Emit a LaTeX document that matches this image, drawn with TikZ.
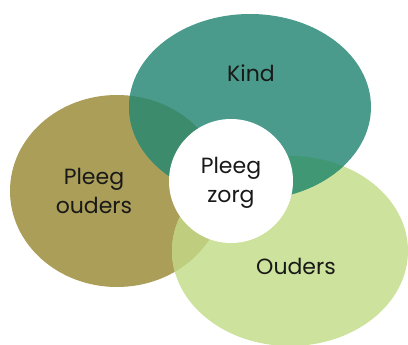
\documentclass[tikz,border=0pt]{standalone}
\usepackage{fontspec}
\setmainfont{Poppins}
\usepackage{xcolor}
\usepackage{tikz}
\usetikzlibrary{shapes.geometric}
\definecolor{kindcol}{HTML}{4A9B8B}
\definecolor{pleegcol}{HTML}{AB9E58}
\definecolor{ouderscol}{HTML}{CDE29C}
\definecolor{kindpleeg}{HTML}{3B8B6C}
\definecolor{kindouders}{HTML}{3F9873}
\definecolor{pleegouders}{HTML}{BFCD7F}
\tikzstyle{label}=[align=center, text=black!90, font=\fontsize{22}{29}\selectfont]
\tikzstyle{middle}=[fill=white, draw=none, shape=circle, minimum size=124pt, inner sep=0pt]
\newcommand{\kindshape}{(250,107) ellipse (121pt and 93pt)}
\newcommand{\pleegshape}{(117,191) ellipse (107pt and 96pt)}
\newcommand{\oudersshape}{(290,251) ellipse (118pt and 95pt)}
\pgfdeclarelayer{ellipselayer}
\pgfsetlayers{ellipselayer,main}

\begin{document}
\begin{tikzpicture}[x=1pt, y=-1pt]
	\useasboundingbox (0,0) rectangle (408,345);
	\begin{pgfonlayer}{ellipselayer}
		\fill [pleegcol] \pleegshape;
		\fill [ouderscol] \oudersshape;
		\fill [kindcol] \kindshape;
		% overlaps
		\begin{scope}
			\clip \pleegshape;
			\fill [pleegouders] \oudersshape;
			\fill [kindpleeg] \kindshape;
		\end{scope}
		\begin{scope}
			\clip \oudersshape;
			\fill [kindouders] \kindshape;
		\end{scope}
	\end{pgfonlayer}
	\node [style=middle] (0) at (231,181) {};
	\node [style=label] (1) at (251,73) {Kind};
	\node [style=label] (2) at (94,191) {Pleeg\\ouders};
	\node [style=label] (3) at (231,183) {Pleeg\\zorg};
	\node [style=label] (4) at (296,266) {Ouders};
\end{tikzpicture}
\end{document}
